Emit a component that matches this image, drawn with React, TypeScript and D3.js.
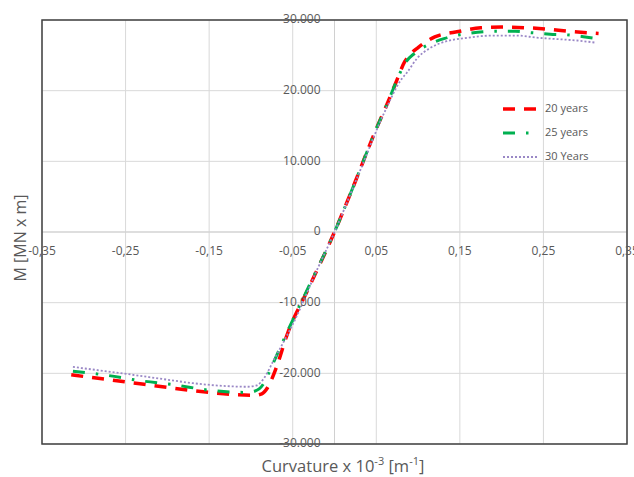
import React from "react";
import * as d3 from "d3";

// curvature x 10^-3 [1/m] and moment [kN m]
const years20X = [-0.315, -0.29, -0.25, -0.2, -0.15, -0.12, -0.095, -0.087, -0.08, -0.07, -0.056, -0.032, 0, 0.02, 0.05, 0.064, 0.075, 0.084, 0.092, 0.1, 0.12, 0.15, 0.175, 0.2, 0.23, 0.255, 0.28, 0.316];
const years20Y = [-20200, -20600, -21200, -22000, -22700, -23000, -23100, -22900, -22000, -19300, -14300, -8200, 0, 5700, 14600, 18400, 21600, 24100, 25300, 26100, 27600, 28400, 28900, 29000, 28900, 28700, 28400, 28100];

const years25X = [-0.313, -0.277, -0.229, -0.193, -0.149, -0.107, -0.095, -0.085, -0.077, -0.056, -0.032, 0, 0.02, 0.05, 0.064, 0.075, 0.085, 0.096, 0.114, 0.132, 0.154, 0.194, 0.216, 0.236, 0.258, 0.278, 0.3, 0.312];
const years25Y = [-19700, -20200, -21100, -21600, -22400, -22700, -22500, -21500, -19500, -14000, -8000, 0, 5700, 14600, 18400, 21600, 24000, 25300, 26600, 27400, 28000, 28400, 28400, 28200, 28000, 27900, 27600, 27400];

const years30X = [-0.313, -0.28, -0.248, -0.2, -0.169, -0.13, -0.105, -0.093, -0.085, -0.073, -0.044, -0.023, 0, 0.03, 0.06, 0.08, 0.087, 0.099, 0.114, 0.134, 0.154, 0.174, 0.19, 0.218, 0.242, 0.266, 0.29, 0.312];
const years30Y = [-19100, -19600, -20100, -20900, -21400, -21800, -21900, -21700, -20800, -18200, -11600, -5900, 0, 8500, 17000, 21600, 22600, 24600, 26000, 27000, 27400, 27700, 27800, 27800, 27500, 27300, 27100, 26800];

const seriesNames = ["20 years", "25 years", "30 Years"];
const xTicks = [-0.35, -0.25, -0.15, -0.05, 0.05, 0.15, 0.25, 0.35];
const yTicks = [-30000, -20000, -10000, 0, 10000, 20000, 30000];

const width = 634;
const height = 477;
const left = 42;
const right = 627;
const top = 20;
const bottom = 444;

const locale = d3.formatLocale({
  decimal: ",",
  thousands: ".",
  grouping: [3],
  currency: ["", ""],
  minus: "-",
});
const fmtX = locale.format(".2f");
const fmtY = locale.format(",.0f");

const styles = [
  { color: "#ff0000", width: 3.5, dash: "12,9" },
  { color: "#00b050", width: 3, dash: "12,11,2.5,11" },
  { color: "#9a88c6", width: 1.8, dash: "2,2" },
];

const font = "'Open Sans', 'Noto Sans', sans-serif";
const grey = "#595959";

export default function App() {
  const x = d3.scaleLinear().domain([-0.35, 0.35]).range([left, right]);
  const y = d3.scaleLinear().domain([-30000, 30000]).range([bottom, top]);

  const series = [
    years20X.map((v, i) => [v, years20Y[i]] as [number, number]),
    years25X.map((v, i) => [v, years25Y[i]] as [number, number]),
    years30X.map((v, i) => [v, years30Y[i]] as [number, number]),
  ];

  const line = d3
    .line<[number, number]>()
    .x(d => x(d[0]))
    .y(d => y(d[1]))
    .curve(d3.curveMonotoneX);

  const x0 = x(0);
  const y0 = y(0);

  return (
    <svg
      width={width}
      height={height}
      style={{ position: "absolute", left: 0, top: 0, background: "#fff" }}
    >
      {/* grid */}
      {xTicks.map(t => (
        <line key={"gx" + t} x1={x(t)} x2={x(t)} y1={top} y2={bottom} stroke="#d9d9d9" strokeWidth={1} />
      ))}
      {yTicks.map(t => (
        <line key={"gy" + t} x1={left} x2={right} y1={y(t)} y2={y(t)} stroke="#d9d9d9" strokeWidth={1} />
      ))}
      {/* axes through zero */}
      <line x1={x0} x2={x0} y1={top} y2={bottom} stroke="#d0d0d0" strokeWidth={1} />
      <line x1={left} x2={right} y1={y0} y2={y0} stroke="#d0d0d0" strokeWidth={1} />

      {/* series */}
      {series.map((s, i) => (
        <path
          key={seriesNames[i]}
          d={line(s) || ""}
          fill="none"
          stroke={styles[i].color}
          strokeWidth={styles[i].width}
          strokeDasharray={styles[i].dash}
        />
      ))}

      {/* frame */}
      <rect x={left} y={top} width={right - left} height={bottom - top} fill="none" stroke="#404040" strokeWidth={1.5} />

      {/* y tick labels */}
      {yTicks.map(t => (
        <text
          key={"ty" + t}
          x={x0 - 14}
          y={y(t)}
          textAnchor="end"
          dominantBaseline="middle"
          fontFamily={font}
          fontSize={12}
          fill={grey}
        >
          {fmtY(t)}
        </text>
      ))}

      {/* x tick labels */}
      {xTicks.map(t => (
        <text
          key={"tx" + t}
          x={x(t)}
          y={y0 + 20}
          textAnchor="middle"
          dominantBaseline="middle"
          fontFamily={font}
          fontSize={12}
          fill={grey}
        >
          {fmtX(t)}
        </text>
      ))}

      {/* axis titles */}
      <text
        x={343}
        y={472}
        textAnchor="middle"
        fontFamily={font}
        fontSize={16.5}
        fill={grey}
      >
        Curvature x 10
        <tspan dy={-7} fontSize={11}>-3</tspan>
        <tspan dy={7}> [m</tspan>
        <tspan dy={-7} fontSize={11}>-1</tspan>
        <tspan dy={7}>]</tspan>
      </text>
      <text
        transform="translate(26,238) rotate(-90)"
        textAnchor="middle"
        fontFamily={font}
        fontSize={16}
        fill={grey}
      >
        M [MN x m]
      </text>

      {/* legend */}
      {seriesNames.map((name, i) => {
        const ly = 109 + i * 24;
        return (
          <g key={"lg" + name}>
            <line
              x1={503}
              x2={539}
              y1={ly}
              y2={ly}
              stroke={styles[i].color}
              strokeWidth={styles[i].width}
              strokeDasharray={styles[i].dash}
            />
            <text
              x={545}
              y={ly}
              dominantBaseline="middle"
              fontFamily={font}
              fontSize={11}
              fill={grey}
            >
              {name}
            </text>
          </g>
        );
      })}
    </svg>
  );
}
